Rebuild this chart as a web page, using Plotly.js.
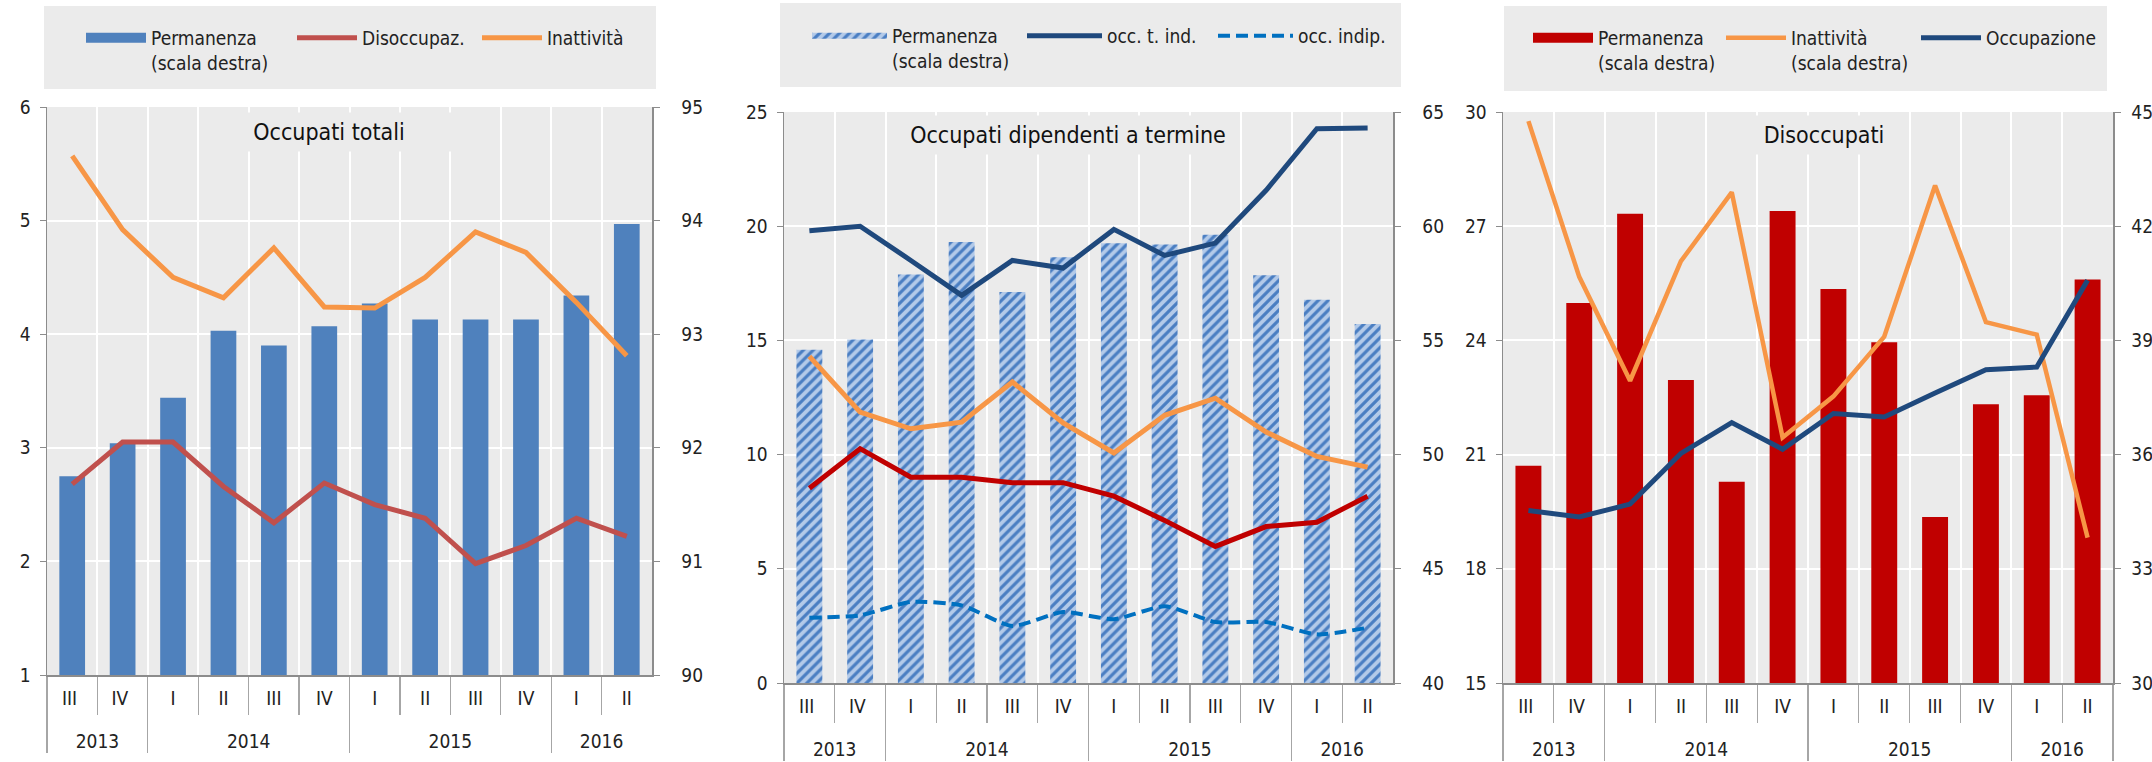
<!DOCTYPE html>
<html><head><meta charset="utf-8">
<script src="https://cdn.plot.ly/plotly-3.0.1.min.js"></script>
<style>html,body{margin:0;padding:0;background:#fff;} #chart{width:2152px;height:762px;}</style>
</head><body><div id="chart"></div>
<script>
// ---- categories ----
const years = ['2013','2013','2014','2014','2014','2014','2015','2015','2015','2015','2016','2016'];
const quarters = ['III','IV','I','II','III','IV','I','II','III','IV','I','II'];

// ---- Panel 1: Occupati totali ----
const p1Permanenza = [91.75, 92.04, 92.44, 93.03, 92.90, 93.07, 93.27, 93.13, 93.13, 93.13, 93.34, 93.97];
const p1Disoccupaz = [2.68, 3.05, 3.05, 2.66, 2.34, 2.69, 2.50, 2.38, 1.98, 2.14, 2.38, 2.22];
const p1Inattivita = [5.57, 4.92, 4.50, 4.32, 4.76, 4.24, 4.23, 4.50, 4.90, 4.72, 4.28, 3.81];

// ---- Panel 2: Occupati dipendenti a termine ----
const p2Permanenza = [54.59, 55.04, 57.88, 59.31, 57.12, 58.64, 59.25, 59.20, 59.63, 57.85, 56.78, 55.72];
const p2OccTInd = [19.80, 20.00, 18.50, 16.97, 18.50, 18.17, 19.86, 18.72, 19.26, 21.57, 24.27, 24.30];
const p2OccIndip = [2.86, 2.96, 3.55, 3.40, 2.50, 3.11, 2.79, 3.36, 2.67, 2.67, 2.13, 2.42];
const p2Inattivita = [14.30, 11.86, 11.13, 11.42, 13.18, 11.39, 10.07, 11.72, 12.47, 10.99, 9.92, 9.45];
const p2Disoccupaz = [8.53, 10.26, 9.01, 9.01, 8.77, 8.77, 8.18, 7.12, 5.98, 6.85, 7.04, 8.18];

// ---- Panel 3: Disoccupati ----
const p3Permanenza = [35.71, 39.98, 42.33, 37.96, 35.29, 42.40, 40.35, 38.95, 34.36, 37.32, 37.56, 40.60];
const p3Inattivita = [44.76, 40.67, 37.94, 41.08, 42.89, 36.45, 37.53, 39.10, 43.07, 39.48, 39.15, 33.82];
const p3Occupazione = [19.53, 19.36, 19.70, 21.03, 21.84, 21.14, 22.08, 21.99, 22.62, 23.23, 23.30, 25.58];

// ---- labels ----
const panelTitles = ['Occupati totali', 'Occupati dipendenti a termine', 'Disoccupati'];
const names1 = ['Permanenza<br>(scala destra)', 'Disoccupaz.', 'Inattività'];
const names2 = ['Permanenza<br>(scala destra)', 'occ. t. ind.', 'occ. indip.'];
const names3 = ['Permanenza<br>(scala destra)', 'Inattività<br>(scala destra)', 'Occupazione'];

// ---- styling ----
const FONT = '"DejaVu Sans Condensed", "Liberation Sans Narrow", "Arial Narrow", sans-serif';
const W = 2152, H = 762;
const px = v => v / W;
const py = v => 1 - v / H;
// multicategory keys: year label one line lower; first year's quarters kept distinct so that
// Plotly keeps the quarters of each later year in I, II, III, IV order
const yearKeys = years.map(y => '<br>' + y);
const quarterKeys = quarters.map((q, i) => years[i] === years[0] ? q + ' ' : q);
const X = [yearKeys, quarterKeys];
const proxyX = [[yearKeys[0]], [quarterKeys[0]]];
const C = {blue:'#4f81bd', red1:'#c0504d', orange:'#f79646', navy:'#1f497d', red2:'#c00000', dash:'#0070c0', hatchBg:'#b3cae9', hatchFg:'#4a7ec2'};

const traces = [
  // panel 1
  {type:'scatter', mode:'lines', x:proxyX, y:[null], xaxis:'x', yaxis:'y', name:names1[0], legend:'legend', legendwidth:136, line:{color:C.blue, width:12}},
  {type:'bar', x:X, y:p1Permanenza, xaxis:'x', yaxis:'y', marker:{color:C.blue}, showlegend:false, hoverinfo:'skip'},
  {type:'scatter', mode:'lines', x:X, y:p1Disoccupaz, xaxis:'x', yaxis:'y2', name:names1[1], legend:'legend', legendwidth:110, line:{color:C.red1, width:5}},
  {type:'scatter', mode:'lines', x:X, y:p1Inattivita, xaxis:'x', yaxis:'y2', name:names1[2], legend:'legend', legendwidth:95, line:{color:C.orange, width:5}},
  // panel 2
  {type:'scatter', mode:'none', fill:'toself', x:proxyX, y:[null], xaxis:'x2', yaxis:'y3', name:names2[0], legend:'legend2', legendwidth:125, fillcolor:C.hatchBg, fillpattern:{shape:'/', fgcolor:C.hatchFg, bgcolor:C.hatchBg, size:7, solidity:0.45}},
  {type:'bar', x:X, y:p2Permanenza, xaxis:'x2', yaxis:'y3', marker:{color:C.hatchBg, pattern:{shape:'/', fgcolor:C.hatchFg, bgcolor:C.hatchBg, size:7, solidity:0.45}}, showlegend:false, hoverinfo:'skip'},
  {type:'scatter', mode:'lines', x:X, y:p2Inattivita, xaxis:'x2', yaxis:'y4', showlegend:false, line:{color:C.orange, width:5}},
  {type:'scatter', mode:'lines', x:X, y:p2Disoccupaz, xaxis:'x2', yaxis:'y4', showlegend:false, line:{color:C.red2, width:5}},
  {type:'scatter', mode:'lines', x:X, y:p2OccTInd, xaxis:'x2', yaxis:'y4', name:names2[1], legend:'legend2', legendwidth:101, line:{color:C.navy, width:5}},
  {type:'scatter', mode:'lines', x:X, y:p2OccIndip, xaxis:'x2', yaxis:'y4', name:names2[2], legend:'legend2', legendwidth:100, line:{color:C.dash, width:4, dash:'12px,6px', shape:'spline', smoothing:0.6}},
  // panel 3
  {type:'scatter', mode:'lines', x:proxyX, y:[null], xaxis:'x3', yaxis:'y5', name:names3[0], legend:'legend3', legendwidth:118, line:{color:C.red2, width:12}},
  {type:'bar', x:X, y:p3Permanenza, xaxis:'x3', yaxis:'y5', marker:{color:C.red2}, showlegend:false, hoverinfo:'skip'},
  {type:'scatter', mode:'lines', x:X, y:p3Inattivita, xaxis:'x3', yaxis:'y5', name:names3[1], legend:'legend3', legendwidth:120, line:{color:C.orange, width:4.5}},
  {type:'scatter', mode:'lines', x:X, y:p3Occupazione, xaxis:'x3', yaxis:'y6', name:names3[2], legend:'legend3', legendwidth:122, line:{color:C.navy, width:5}}
];

const tickfont = {family:FONT, size:19, color:'#222'};
function xax(x0, x1, anchor) {
  return {type:'multicategory', domain:[px(x0), px(x1)], anchor:anchor,
    showgrid:true, gridcolor:'#ffffff', gridwidth:2, tickson:'boundaries',
    ticks:'outside', ticklen:38, tickcolor:'#a6a6a6', tickwidth:1.3,
    showline:true, linecolor:'#8c8c8c', linewidth:1.5,
    showdividers:true, dividercolor:'#a6a6a6', dividerwidth:1.3,
    tickfont:tickfont, ticklabelstandoff:6, zeroline:false, fixedrange:true};
}
function ybase(top, bot, anchor, range, dtick, standoff) {
  return {domain:[py(bot), py(top)], anchor:anchor, side:'right', range:range, dtick:dtick, tick0:range[0],
    showgrid:true, gridcolor:'#ffffff', gridwidth:2, zeroline:false,
    ticks:'outside', ticklen:6, tickcolor:'#8c8c8c', showline:true, linecolor:'#8c8c8c', linewidth:1.5,
    tickfont:tickfont, ticklabelstandoff:standoff, fixedrange:true};
}
function yover(over, anchor, range, dtick) {
  return {overlaying:over, anchor:anchor, side:'left', range:range, dtick:dtick, tick0:range[0],
    showgrid:false, zeroline:false,
    ticks:'outside', ticklen:6, tickcolor:'#8c8c8c', showline:true, linecolor:'#8c8c8c', linewidth:1.5,
    tickfont:tickfont, ticklabelstandoff:5, fixedrange:true};
}
function leg(x, y, itemwidth) {
  return {orientation:'h', x:px(x), xanchor:'left', y:py(y), yanchor:'top', bgcolor:'rgba(0,0,0,0)',
    font:{family:FONT, size:19, color:'#222'}, itemwidth:itemwidth, entrywidthmode:'pixels',
    valign:'top', traceorder:'normal', itemclick:false, itemdoubleclick:false};
}
function box(x0, x1, y0, y1) {
  return {type:'rect', xref:'paper', yref:'paper', x0:px(x0), x1:px(x1), y0:py(y1), y1:py(y0), fillcolor:'#ebebeb', line:{width:0}, layer:'below'};
}
function title(i, xr, yr, xf, yf, w) {
  return {xref:xr + ' domain', yref:yr + ' domain', x:xf, y:yf, xanchor:'center', yanchor:'middle', text:panelTitles[i], showarrow:false,
    font:{family:FONT, size:23, color:'#111'}, bgcolor:'#ebebeb', width:w, height:36};
}

const layout = {
  width:W, height:H, autosize:false,
  margin:{l:0, r:0, t:0, b:0, pad:0},
  paper_bgcolor:'#ffffff', plot_bgcolor:'#ebebeb',
  font:{family:FONT, size:18, color:'#222'},
  bargap:0.49, barmode:'overlay',
  xaxis: xax(47, 652, 'y'),
  yaxis: ybase(107, 675, 'x', [90, 95], 1, 18),
  yaxis2: yover('y', 'x', [1, 6], 1),
  xaxis2: xax(784, 1393, 'y3'),
  yaxis3: ybase(112, 683, 'x2', [40, 65], 5, 18),
  yaxis4: yover('y3', 'x2', [0, 25], 5),
  xaxis3: xax(1503, 2113, 'y5'),
  yaxis5: ybase(112, 683, 'x3', [30, 45], 3, 7),
  yaxis6: yover('y5', 'x3', [15, 30], 3),
  legend: leg(81, 19, 60),
  legend2: leg(807, 17, 75),
  legend3: leg(1528, 19, 60),
  shapes:[box(44, 656, 6, 89), box(780, 1401, 3, 87), box(1504, 2107, 6, 91)],
  annotations:[
    title(0, 'x', 'y', 0.466, 0.956, 254),
    title(1, 'x2', 'y3', 0.466, 0.96, 330),
    title(2, 'x3', 'y5', 0.526, 0.96, 150)
  ]
};

Plotly.newPlot('chart', traces, layout, {displayModeBar:false, staticPlot:true});
</script>
</body></html>
